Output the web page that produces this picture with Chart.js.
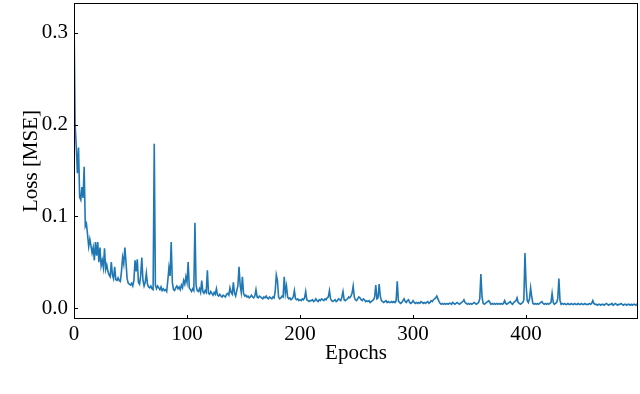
<!DOCTYPE html>
<html>
<head>
<meta charset="utf-8">
<script src="https://cdn.jsdelivr.net/npm/chart.js@4/dist/chart.umd.min.js"></script>
<style>
  html, body { margin: 0; padding: 0; background: #fff; }
  #wrap { width: 640px; height: 394px; }
</style>
</head>
<body>
<div id="wrap"><canvas id="lossChart" width="640" height="394"></canvas></div>
<script>
// training loss per epoch (10 values per row)
const loss = [
  0.320, 0.200, 0.176, 0.147, 0.175, 0.121, 0.118, 0.132, 0.120, 0.154,
  0.089, 0.092, 0.080, 0.067, 0.075, 0.068, 0.060, 0.066, 0.052, 0.072,
  0.057, 0.072, 0.050, 0.066, 0.046, 0.052, 0.044, 0.065, 0.042, 0.047,
  0.040, 0.036, 0.034, 0.050, 0.036, 0.032, 0.045, 0.031, 0.030, 0.033,
  0.030, 0.029, 0.040, 0.055, 0.048, 0.066, 0.050, 0.032, 0.027, 0.026,
  0.025, 0.027, 0.024, 0.030, 0.052, 0.040, 0.053, 0.028, 0.026, 0.035,
  0.055, 0.030, 0.024, 0.028, 0.038, 0.026, 0.023, 0.022, 0.024, 0.021,
  0.020, 0.179, 0.025, 0.021, 0.024, 0.022, 0.020, 0.023, 0.019, 0.021,
  0.019, 0.020, 0.018, 0.030, 0.044, 0.035, 0.072, 0.028, 0.020, 0.019,
  0.022, 0.024, 0.021, 0.023, 0.020, 0.025, 0.022, 0.030, 0.026, 0.034,
  0.028, 0.050, 0.022, 0.020, 0.018, 0.021, 0.019, 0.093, 0.025, 0.019,
  0.018, 0.021, 0.017, 0.030, 0.018, 0.016, 0.019, 0.017, 0.041, 0.016,
  0.015, 0.018, 0.016, 0.014, 0.017, 0.015, 0.021, 0.014, 0.013, 0.015,
  0.013, 0.012, 0.014, 0.013, 0.012, 0.015, 0.016, 0.014, 0.022, 0.017,
  0.015, 0.028, 0.016, 0.013, 0.019, 0.024, 0.045, 0.025, 0.017, 0.034,
  0.016, 0.013, 0.014, 0.012, 0.013, 0.011, 0.012, 0.014, 0.012, 0.011,
  0.013, 0.020, 0.012, 0.011, 0.013, 0.012, 0.011, 0.010, 0.012, 0.011,
  0.013, 0.011, 0.010, 0.012, 0.011, 0.010, 0.012, 0.011, 0.018, 0.036,
  0.030, 0.012, 0.010, 0.011, 0.013, 0.012, 0.034, 0.016, 0.024, 0.012,
  0.010, 0.011, 0.009, 0.010, 0.012, 0.019, 0.010, 0.009, 0.010, 0.008,
  0.009, 0.008, 0.010, 0.009, 0.011, 0.018, 0.009, 0.008, 0.007, 0.008,
  0.008, 0.009, 0.007, 0.008, 0.010, 0.008, 0.007, 0.009, 0.008, 0.010,
  0.009, 0.008, 0.010, 0.009, 0.011, 0.012, 0.019, 0.010, 0.008, 0.007,
  0.008, 0.009, 0.007, 0.008, 0.010, 0.009, 0.008, 0.012, 0.018, 0.009,
  0.008, 0.009, 0.010, 0.012, 0.011, 0.013, 0.016, 0.024, 0.012, 0.009,
  0.008, 0.010, 0.012, 0.011, 0.009, 0.008, 0.010, 0.009, 0.007, 0.008,
  0.007, 0.008, 0.006, 0.007, 0.008, 0.009, 0.012, 0.025, 0.010, 0.011,
  0.026, 0.013, 0.008, 0.007, 0.006, 0.007, 0.008, 0.006, 0.007, 0.006,
  0.006, 0.007, 0.006, 0.007, 0.006, 0.008, 0.029, 0.008, 0.006, 0.005,
  0.006, 0.008, 0.010, 0.007, 0.006, 0.008, 0.009, 0.006, 0.005, 0.006,
  0.008, 0.006, 0.005, 0.006, 0.005, 0.006, 0.005, 0.007, 0.006, 0.005,
  0.006, 0.005, 0.006, 0.007, 0.005, 0.006, 0.008, 0.007, 0.009, 0.010,
  0.011, 0.013, 0.010, 0.007, 0.005, 0.004, 0.005, 0.004, 0.005, 0.004,
  0.005, 0.004, 0.005, 0.005, 0.004, 0.006, 0.005, 0.004, 0.005, 0.006,
  0.005, 0.004, 0.005, 0.006, 0.007, 0.009, 0.006, 0.005, 0.004, 0.005,
  0.004, 0.005, 0.004, 0.005, 0.006, 0.005, 0.004, 0.005, 0.006, 0.010,
  0.037, 0.012, 0.005, 0.004, 0.005, 0.006, 0.007, 0.008, 0.006, 0.004,
  0.005, 0.004, 0.005, 0.004, 0.005, 0.004, 0.005, 0.004, 0.005, 0.004,
  0.005, 0.008, 0.005, 0.004, 0.005, 0.006, 0.007, 0.005, 0.004, 0.006,
  0.007, 0.008, 0.011, 0.006, 0.005, 0.004, 0.005, 0.006, 0.009, 0.060,
  0.025, 0.008, 0.006, 0.010, 0.022, 0.012, 0.005, 0.004, 0.005, 0.004,
  0.005, 0.004, 0.005, 0.006, 0.007, 0.005, 0.004, 0.005, 0.004, 0.005,
  0.004, 0.005, 0.006, 0.016, 0.006, 0.004, 0.005, 0.006, 0.010, 0.032,
  0.008, 0.004, 0.005, 0.004, 0.005, 0.004, 0.004, 0.005, 0.004, 0.004,
  0.005, 0.004, 0.004, 0.005, 0.004, 0.004, 0.005, 0.004, 0.004, 0.005,
  0.004, 0.004, 0.005, 0.004, 0.004, 0.004, 0.005, 0.004, 0.005, 0.008,
  0.005, 0.004, 0.004, 0.003, 0.004, 0.004, 0.003, 0.004, 0.004, 0.003,
  0.004, 0.005, 0.004, 0.003, 0.004, 0.004, 0.005, 0.003, 0.004, 0.005,
  0.004, 0.003, 0.004, 0.004, 0.005, 0.004, 0.003, 0.004, 0.004, 0.003,
  0.004, 0.004, 0.003, 0.004, 0.003, 0.004, 0.004, 0.003, 0.004, 0.003,
];
const epochs = loss.map((_, i) => i);

const xTicks = [0, 100, 200, 300, 400];
const yTicks = [0.0, 0.1, 0.2, 0.3];

const serif = '"Liberation Serif", "DejaVu Serif", serif';
const lineColor = '#1f77b4';

// matplotlib-style frame with short inward ticks
const framePlugin = {
    id: 'frame',
    afterDraw(chart) {
        const { ctx, chartArea: a, scales } = chart;
        ctx.save();
        ctx.strokeStyle = '#000';
        ctx.lineWidth = 1;
        ctx.strokeRect(a.left + 0.5, a.top + 0.5, a.right - a.left - 1, a.bottom - a.top - 1);
        ctx.beginPath();
        xTicks.forEach(v => {
            const x = Math.round(scales.x.getPixelForValue(v)) + 0.5;
            ctx.moveTo(x, a.bottom);
            ctx.lineTo(x, a.bottom - 4);
        });
        yTicks.forEach(v => {
            const y = Math.round(scales.y.getPixelForValue(v)) + 0.5;
            ctx.moveTo(a.left, y);
            ctx.lineTo(a.left + 4, y);
        });
        ctx.stroke();
        ctx.restore();
    },
};

new Chart(document.getElementById('lossChart'), {
    type: 'line',
    data: {
        labels: epochs,
        datasets: [{
            data: epochs.map((e, i) => ({ x: e, y: loss[i] })),
            borderColor: lineColor,
            borderWidth: 1.6,
            pointRadius: 0,
            tension: 0,
            fill: false,
        }],
    },
    options: {
        responsive: false,
        animation: false,
        devicePixelRatio: 1,
        layout: { padding: { left: 0, right: 2, top: 3, bottom: 0 } },
        plugins: {
            legend: { display: false },
            tooltip: { enabled: false },
        },
        scales: {
            x: {
                type: 'linear',
                min: 0,
                max: 499,
                afterBuildTicks: s => { s.ticks = xTicks.map(v => ({ value: v })); },
                afterFit: s => { s.height = 75; s.paddingLeft = 0; s.paddingRight = 0; },
                grid: { display: false, drawTicks: false },
                border: { display: false },
                ticks: {
                    color: '#000',
                    padding: 3,
                    maxRotation: 0,
                    font: { family: serif, size: 21 },
                    callback: v => String(v),
                },
                title: {
                    display: true,
                    text: 'Epochs',
                    color: '#000',
                    font: { family: serif, size: 21 },
                    padding: { top: 0, bottom: 28 },
                },
            },
            y: {
                min: -0.012,
                max: 0.3326,
                afterBuildTicks: s => { s.ticks = yTicks.map(v => ({ value: v })); },
                afterFit: s => { s.width = 74; s.paddingTop = 0; s.paddingBottom = 0; },
                grid: { display: false, drawTicks: false },
                border: { display: false },
                ticks: {
                    color: '#000',
                    padding: 6,
                    font: { family: serif, size: 21 },
                    callback: v => v.toFixed(1),
                },
                title: {
                    display: true,
                    text: 'Loss [MSE]',
                    color: '#000',
                    font: { family: serif, size: 21 },
                    padding: { top: 19, bottom: 0 },
                },
            },
        },
    },
    plugins: [framePlugin],
});
</script>
</body>
</html>
